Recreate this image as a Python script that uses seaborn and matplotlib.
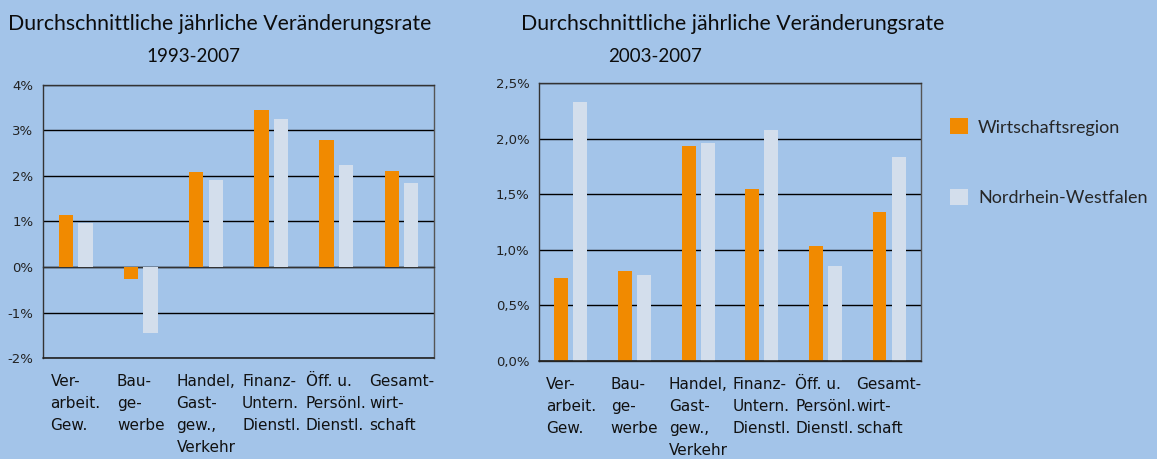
import matplotlib
matplotlib.use("Agg")
import matplotlib.pyplot as plt
import matplotlib.transforms as mtransforms
from matplotlib.patches import Patch
import seaborn as sns
import pandas as pd

# Daten
kategorien = ["Ver-\narbeit.\nGew.", "Bau-\nge-\nwerbe", "Handel,\nGast-\ngew.,\nVerkehr",
              "Finanz-\nUntern.\nDienstl.", "Öff. u.\nPersönl.\nDienstl.", "Gesamt-\nwirt-\nschaft"]
serien = ["Wirtschaftsregion", "Nordrhein-Westfalen"]
region_93 = [1.15, -0.26, 2.09, 3.45, 2.79, 2.11]
nrw_93 = [0.97, -1.46, 1.91, 3.25, 2.24, 1.85]
region_03 = [0.75, 0.81, 1.93, 1.55, 1.03, 1.34]
nrw_03 = [2.33, 0.77, 1.96, 2.08, 0.855, 1.83]
zeitraeume = ["1993-2007", "2003-2007"]
titel = "Durchschnittliche jährliche Veränderungsrate"

BG = "#A3C4E9"
farben = {"Wirtschaftsregion": "#F18A00", "Nordrhein-Westfalen": "#D3DEEC"}

sns.set_style("white")
plt.rcParams["font.family"] = ["Lato", "DejaVu Sans"]
schmal = ["Liberation Sans Narrow", "DejaVu Sans Condensed", "DejaVu Sans"]


def make_df(reg, nrw):
    rows = []
    for k, a, b in zip(kategorien, reg, nrw):
        rows.append({"kat": k, "serie": serien[0], "wert": a})
        rows.append({"kat": k, "serie": serien[1], "wert": b})
    return pd.DataFrame(rows)


fig = plt.figure(figsize=(11.57, 4.59), dpi=100, facecolor=BG)
ax1 = fig.add_axes([0.0372, 0.220, 0.338, 0.595])
ax2 = fig.add_axes([0.4659, 0.2135, 0.330, 0.6057])

konfig = [
    (ax1, make_df(region_93, nrw_93), (-2, 4), list(range(-2, 5)),
     [f"{v}%" for v in range(-2, 5)]),
    (ax2, make_df(region_03, nrw_03), (0, 2.5), [0, 0.5, 1.0, 1.5, 2.0, 2.5],
     ["0,0%", "0,5%", "1,0%", "1,5%", "2,0%", "2,5%"]),
]

for ax, df, ylim, yt, ylab in konfig:
    ax.set_facecolor(BG)
    sns.barplot(data=df, x="kat", y="wert", hue="serie", hue_order=serien,
                palette=farben, width=0.6, gap=0.27, ax=ax, legend=False,
                errorbar=None, saturation=1, linewidth=0, edgecolor="none", zorder=3)
    ax.set_ylim(*ylim)
    ax.set_xlim(-0.5, 5.5)
    ax.set_yticks(yt)
    ax.set_yticklabels(ylab, fontsize=9.5, family=schmal, color="#222222")
    ax.yaxis.grid(True, color="black", lw=1, zorder=1)
    ax.axhline(ylim[0], color="#222222", lw=1.2, clip_on=False, zorder=4)
    ax.set_axisbelow(True)
    ax.set_xlabel("")
    ax.set_ylabel("")
    for s in ax.spines.values():
        s.set_color("#333333")
        s.set_linewidth(1)
    ax.spines["right"].set_color("#555555")
    ax.spines["bottom"].set_position(("data", 0))
    ax.set_xticks([x / 2 for x in range(-1, 12)])
    ax.set_xticklabels([])
    ax.tick_params(axis="x", direction="out", length=4, width=1, color="#333333")
    ax.tick_params(axis="y", direction="out", length=5, width=1, color="#333333", pad=2)
    off = mtransforms.offset_copy(ax.get_xaxis_transform(), fig=fig, x=0, y=-16, units="dots")
    for i, k in enumerate(kategorien):
        ax.text(i, 0, k, transform=off, ha="center", va="top", multialignment="left",
                fontsize=11, family=schmal, color="#111111", linespacing=1.58)

fig.text(0.007, 0.947, titel, fontsize=15.3, color="#0c0c0c", va="center")
fig.text(0.167, 0.877, zeitraeume[0], fontsize=13.5, color="#0c0c0c", va="center", ha="center")
fig.text(0.450, 0.947, titel, fontsize=15.3, color="#0c0c0c", va="center")
fig.text(0.566, 0.877, zeitraeume[1], fontsize=13.5, color="#0c0c0c", va="center", ha="center")

handles = [Patch(facecolor=farben[s], edgecolor="none") for s in serien]
fig.legend(handles, serien, loc="upper left", bbox_to_anchor=(0.815, 0.758),
           frameon=False, fontsize=13, handlelength=1.0, handleheight=1.0,
           handletextpad=0.55, labelspacing=2.95, borderaxespad=0)

fig.savefig("out.png", dpi=100, facecolor=BG)
